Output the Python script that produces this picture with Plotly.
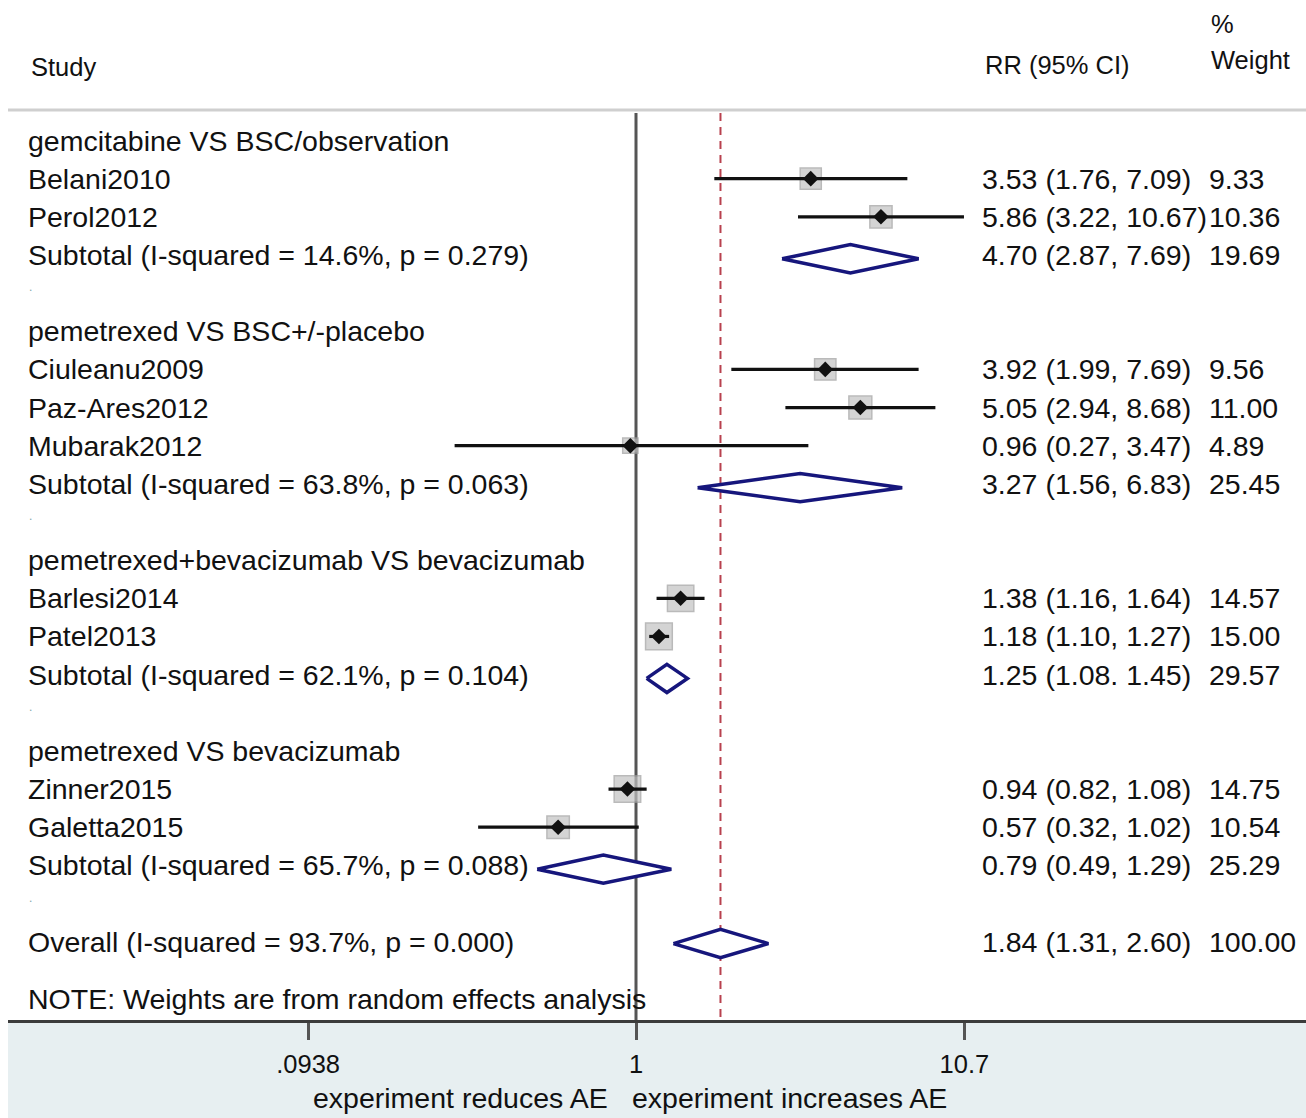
import math
import plotly.graph_objects as go

# ---------------- data ----------------
groups = ["gemcitabine VS BSC/observation", "pemetrexed VS BSC+/-placebo",
          "pemetrexed+bevacizumab VS bevacizumab", "pemetrexed VS bevacizumab"]
studies = ["Belani2010", "Perol2012", "Ciuleanu2009", "Paz-Ares2012", "Mubarak2012",
           "Barlesi2014", "Patel2013", "Zinner2015", "Galetta2015"]
study_group = [0, 0, 1, 1, 1, 2, 2, 3, 3]
rr = [3.53, 5.86, 3.92, 5.05, 0.96, 1.38, 1.18, 0.94, 0.57]
lo = [1.76, 3.22, 1.99, 2.94, 0.27, 1.16, 1.10, 0.82, 0.32]
hi = [7.09, 10.67, 7.69, 8.68, 3.47, 1.64, 1.27, 1.08, 1.02]
wt = [9.33, 10.36, 9.56, 11.00, 4.89, 14.57, 15.00, 14.75, 10.54]

sub_i2 = [14.6, 63.8, 62.1, 65.7]
sub_p = [0.279, 0.063, 0.104, 0.088]
sub_rr = [4.70, 3.27, 1.25, 0.79]
sub_lo = [2.87, 1.56, 1.08, 0.49]
sub_hi = [7.69, 6.83, 1.45, 1.29]
sub_wt = [19.69, 25.45, 29.57, 25.29]
sub_sep = [", ", ", ", ". ", ", "]   # as printed in the original

overall_rr, overall_lo, overall_hi = 1.84, 1.31, 2.60
overall_i2, overall_p, overall_wt = 93.7, 0.000, 100.00

tick_vals = [0.0938, 1, 10.7]
tick_text = [".0938", "1", "10.7"]

# ---------------- layout geometry ----------------
W, H = 1306, 1118
ML, MB = 8, 98
PLOT_BOTTOM = H - MB          # 1020 px
ROW0_PX, ROW_H = 140.5, 38.15  # pixel of first row, row height
PX_ONE, PX_DEC = 636.0, 319.0  # pixel of RR=1, pixels per decade
PAD = 2                        # annotation inner padding

def px2k(p):
    return (p - ROW0_PX) / ROW_H

def px2paperx(p):
    return (p - ML) / (W - ML)

def px2papery(p):
    return (PLOT_BOTTOM - p) / PLOT_BOTTOM

x_range = [(ML - PX_ONE) / PX_DEC, (W - PX_ONE) / PX_DEC]
y_range = [px2k(PLOT_BOTTOM), px2k(0)]

FONT = "Liberation Sans, Arial, sans-serif"
BODY = 28.5
HEAD = 25.5
TXT = "#111111"
NAVY = "#16167c"

fig = go.Figure()
ann = []

def xpos(px_x, anchor):
    return px2paperx(px_x - PAD if anchor == "left" else px_x + PAD)

def label(px_x, k, text, size=BODY, anchor="left", color=TXT):
    ann.append(dict(x=xpos(px_x, anchor), xref="paper", y=k, yref="y", text=text,
                    showarrow=False, xanchor=anchor, yanchor="middle",
                    font=dict(family=FONT, size=size, color=color)))

# build rows
sq_x, sq_y, sq_s = [], [], []
ci_x, ci_y = [], []
dia_x, dia_y = [], []
k = 0
for g, gname in enumerate(groups):
    label(28, k, gname)
    k += 1
    for i, s in enumerate(studies):
        if study_group[i] != g:
            continue
        label(28, k, s)
        label(982, k, f"{rr[i]:.2f} ({lo[i]:.2f}, {hi[i]:.2f})")
        label(1209, k, f"{wt[i]:.2f}")
        sq_x.append(rr[i]); sq_y.append(k); sq_s.append(6.9 * math.sqrt(wt[i]))
        ci_x += [lo[i], hi[i], None]; ci_y += [k, k, None]
        k += 1
    label(28, k, f"Subtotal (I-squared = {sub_i2[g]:.1f}%, p = {sub_p[g]:.3f})")
    label(982, k, f"{sub_rr[g]:.2f} ({sub_lo[g]:.2f}{sub_sep[g]}{sub_hi[g]:.2f})")
    label(1209, k, f"{sub_wt[g]:.2f}")
    dia_x.append((sub_lo[g], sub_rr[g], sub_hi[g])); dia_y.append(k + 0.1)
    k += 1
    label(29, k - 0.15, ".", size=12, color="#7fa6ad")
    k += 1

label(28, k, f"Overall (I-squared = {overall_i2:.1f}%, p = {overall_p:.3f})")
label(982, k, f"{overall_rr:.2f} ({overall_lo:.2f}, {overall_hi:.2f})")
label(1209, k, f"{overall_wt:.2f}")
dia_x.append((overall_lo, overall_rr, overall_hi)); dia_y.append(k + 0.05)
label(28, k + 1.5, "NOTE: Weights are from random effects analysis")

# reference lines
y_top = px2k(113)
fig.add_trace(go.Scatter(x=[1, 1], y=[y_top, y_range[0]], mode="lines",
                         line=dict(color="#555555", width=3), hoverinfo="skip"))
fig.add_trace(go.Scatter(x=[overall_rr, overall_rr], y=[y_top, y_range[0]], mode="lines",
                         line=dict(color="#b8414e", width=2, dash="8px,6px"), hoverinfo="skip"))

# weight squares
fig.add_trace(go.Scatter(x=sq_x, y=sq_y, mode="markers",
                         marker=dict(symbol="square", size=sq_s, color="#c2c2c2",
                                     line=dict(color="#9e9e9e", width=1.5)),
                         hoverinfo="skip"))
# CI lines
fig.add_trace(go.Scatter(x=ci_x, y=ci_y, mode="lines",
                         line=dict(color="#111111", width=3.2), hoverinfo="skip"))
# point estimates
fig.add_trace(go.Scatter(x=sq_x, y=sq_y, mode="markers",
                         marker=dict(symbol="diamond", size=12, color="#111111"),
                         hoverinfo="skip"))
# pooled diamonds
HALF = 0.37
for (l, m, h), yy in zip(dia_x, dia_y):
    fig.add_trace(go.Scatter(x=[l, m, h, m, l], y=[yy, yy - HALF, yy, yy + HALF, yy],
                             mode="lines", fill="toself", fillcolor="white",
                             line=dict(color=NAVY, width=3.5), hoverinfo="skip"))

def head(px_x, px_y, text, size=HEAD, anchor="left"):
    ann.append(dict(x=xpos(px_x, anchor), xref="paper", y=px2papery(px_y), yref="paper",
                    text=text, showarrow=False, xanchor=anchor, yanchor="middle",
                    font=dict(family=FONT, size=size, color=TXT)))

head(31, 67, "Study")
head(985, 65, "RR (95% CI)")
head(1211, 24, "%")
head(1211, 60, "Weight")
# axis title (two halves)
head(608, 1098, "experiment reduces AE", size=BODY, anchor="right")
head(632, 1098, "experiment increases AE", size=BODY, anchor="left")

shapes = [
    dict(type="rect", xref="paper", yref="paper", x0=0, x1=1,
         y0=px2papery(H), y1=px2papery(PLOT_BOTTOM), fillcolor="#e7eff1",
         line=dict(width=0), layer="below"),
    dict(type="line", xref="paper", yref="paper", x0=0, x1=1,
         y0=px2papery(110), y1=px2papery(110), line=dict(color="#cfcfcf", width=3)),
]

fig.update_layout(
    width=W, height=H,
    margin=dict(l=ML, r=0, t=0, b=MB),
    paper_bgcolor="white", plot_bgcolor="white",
    showlegend=False,
    annotations=ann, shapes=shapes,
    xaxis=dict(type="log", range=x_range, tickvals=tick_vals, ticktext=tick_text,
               ticks="outside", ticklen=17, tickwidth=3, tickcolor="#555555",
               showline=True, linecolor="#3c3c3c", linewidth=3, showgrid=False,
               zeroline=False, tickfont=dict(family=FONT, size=HEAD, color=TXT),
               ticklabelstandoff=2, fixedrange=True),
    yaxis=dict(range=y_range, visible=False, showgrid=False, zeroline=False, fixedrange=True),
)

fig.write_html("out.html", config={"displayModeBar": False},
               post_script="document.body.style.margin='0px';")
